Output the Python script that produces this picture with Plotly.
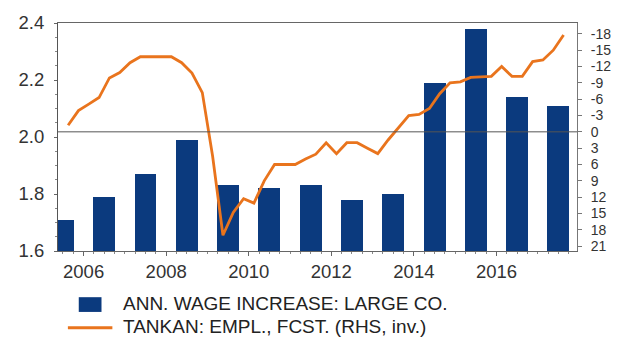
import plotly.graph_objects as go

# Annual wage increase at large companies (%), one bar per fiscal year
years = list(range(2005, 2018))
wage_increase = [1.71, 1.79, 1.87, 1.99, 1.83, 1.82, 1.83, 1.78, 1.80, 2.19, 2.38, 2.14, 2.11]

# Tankan employment conditions DI, forecast (quarterly, plotted on an inverted RHS)
quarter_labels = (
    ["2005Q3", "2005Q4"]
    + [f"{y}Q{q}" for y in range(2006, 2017) for q in range(1, 5)]
    + ["2017Q1", "2017Q2", "2017Q3"]
)
tankan_empl = [
    -1.2, -3.9,
    -5.1, -6.3, -9.9, -10.9,
    -12.7, -13.8, -13.8, -13.8,
    -13.8, -12.7, -10.8, -7.2,
    4.5, 19.0, 14.8, 12.3,
    13.1, 9.0, 6.0, 6.0,
    6.0, 5.0, 4.1, 2.0,
    4.0, 2.0, 2.0, 3.0,
    4.0, 1.5, -0.8, -3.0,
    -3.2, -4.3, -7.0, -9.0,
    -9.2, -10.0, -10.1, -10.2,
    -12.0, -10.2, -10.2, -12.9,
    -13.2, -15.0, -17.8,
]

left_ticks = [1.6, 1.8, 2.0, 2.2, 2.4]
right_ticks = list(range(-18, 22, 3))
year_ticks = list(range(2006, 2017, 2))

# decimal-year positions: bars at mid-year, quarterly points at mid-quarter
bar_x = [y + 0.5 for y in years]
line_x = [int(s[:4]) + (int(s[-1]) - 0.5) / 4 for s in quarter_labels]

NAVY = "#0B3A7E"
ORANGE = "#E9741D"
FONT = "Liberation Sans, Arial, sans-serif"

fig = go.Figure()
fig.add_trace(go.Bar(
    x=bar_x, y=wage_increase, width=0.53,
    marker=dict(color=NAVY, line=dict(width=0)),
    name="ANN. WAGE INCREASE: LARGE CO.", showlegend=False,
))
fig.add_trace(go.Scatter(
    x=line_x, y=tankan_empl, yaxis="y2", mode="lines",
    line=dict(color=ORANGE, width=2.8),
    name="TANKAN: EMPL., FCST. (RHS, inv.)", showlegend=False,
))

W, H = 623, 342
L, R, T, B = 58, 40, 19, 91
pw, ph = W - L - R, H - T - B


def px(xp):
    return (xp - L) / pw


def py(yp):
    return (H - B - yp) / ph


shapes = [
    # RHS zero line
    dict(type="line", xref="paper", yref="y2", x0=0, x1=1, y0=0, y1=0,
         line=dict(color="#555555", width=1)),
    # legend keys
    dict(type="rect", xref="paper", yref="paper",
         x0=px(79), x1=px(102), y0=py(313), y1=py(298),
         fillcolor=NAVY, line=dict(width=0)),
    dict(type="line", xref="paper", yref="paper",
         x0=px(68), x1=px(113), y0=py(329), y1=py(329),
         line=dict(color=ORANGE, width=3)),
]

annotations = [
    dict(xref="paper", yref="paper", x=px(122), y=py(304), xanchor="left", yanchor="middle",
         text="ANN. WAGE INCREASE: LARGE CO.", showarrow=False,
         font=dict(family=FONT, size=19, color="#222222")),
    dict(xref="paper", yref="paper", x=px(122), y=py(328), xanchor="left", yanchor="middle",
         text="TANKAN: EMPL., FCST. (RHS, inv.)", showarrow=False,
         font=dict(family=FONT, size=19, color="#222222")),
]

fig.update_layout(
    width=W, height=H,
    margin=dict(l=L, r=R, t=T, b=B, pad=0),
    paper_bgcolor="white", plot_bgcolor="white",
    font=dict(family=FONT, size=18, color="#333333"),
    bargap=0,
    xaxis=dict(
        range=[2005.38, 2017.95], tickvals=year_ticks, ticktext=[str(y) for y in year_ticks],
        showgrid=False, zeroline=False,
        showline=True, linecolor="#666666", linewidth=1, mirror=True,
        ticks="outside", ticklen=4, tickcolor="#666666",
        minor=dict(dtick=0.25, tick0=2006, ticks="outside", ticklen=2, tickcolor="#888888"),
        tickfont=dict(size=18.5, color="#333333"),
    ),
    yaxis=dict(
        range=[1.6, 2.4], tickvals=left_ticks, ticktext=[f"{v:.1f}" for v in left_ticks],
        showgrid=False, zeroline=False,
        showline=True, linecolor="#555555", linewidth=1,
        ticks="outside", ticklen=3, tickcolor="#666666",
        minor=dict(dtick=0.05, ticks="outside", ticklen=2, tickcolor="#888888"),
        tickfont=dict(size=18.5, color="#333333"),
        ticklabelstandoff=6,
    ),
    yaxis2=dict(
        overlaying="y", side="right",
        range=[21.9, -20.0], tickvals=right_ticks, ticktext=[str(v) for v in right_ticks],
        showgrid=False, zeroline=False,
        showline=True, linecolor="#777777", linewidth=1,
        ticks="outside", ticklen=4, tickcolor="#777777",
        tickfont=dict(size=14, color="#333333"),
        ticklabelstandoff=6,
    ),
    shapes=shapes,
    annotations=annotations,
    showlegend=False,
)

fig.write_html("out.html")
